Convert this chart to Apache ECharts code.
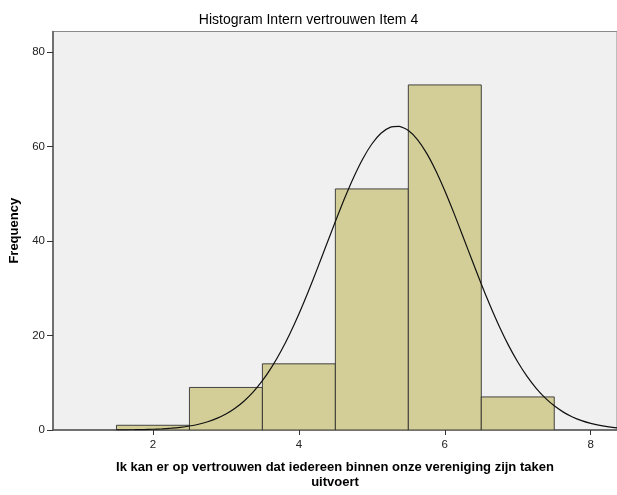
<!DOCTYPE html>
<html>
<head>
<meta charset="utf-8">
<script src="https://cdn.jsdelivr.net/npm/echarts@6/dist/echarts.min.js"></script>
<style>
html,body{margin:0;padding:0;background:#fff;}
#chart{width:617px;height:495px;}
</style>
</head>
<body>
<div id="chart"></div>
<script>
// Histogram bins (centre of each unit-wide bin) and their frequencies
const binCenters = [2, 3, 4, 5, 6, 7];
const frequencies = [1, 9, 14, 51, 73, 7];
// Normal curve points
const curveX = [1.5, 1.625, 1.75, 1.875, 2, 2.125, 2.25, 2.375, 2.5, 2.625, 2.75, 2.875, 3, 3.125, 3.25, 3.375, 3.5, 3.625, 3.75, 3.875, 4, 4.125, 4.25, 4.375, 4.5, 4.625, 4.75, 4.875, 5, 5.125, 5.25, 5.375, 5.5, 5.625, 5.75, 5.875, 6, 6.125, 6.25, 6.375, 6.5, 6.625, 6.75, 6.875, 7, 7.125, 7.25, 7.375, 7.5, 7.625, 7.75, 7.875, 8, 8.125, 8.25, 8.375, 8.5];
const curveY = [0.02, 0.04, 0.06, 0.10, 0.16, 0.25, 0.38, 0.57, 0.84, 1.22, 1.74, 2.45, 3.38, 4.59, 6.14, 8.07, 10.43, 13.24, 16.55, 20.32, 24.54, 29.14, 34.03, 39.07, 44.10, 48.96, 53.43, 57.34, 60.50, 62.77, 64.03, 64.22, 63.34, 61.43, 58.57, 54.91, 50.62, 45.88, 40.89, 35.84, 30.87, 26.16, 21.79, 17.85, 14.38, 11.38, 8.87, 6.79, 5.11, 3.78, 2.75, 1.97, 1.39, 0.96, 0.65, 0.44, 0.29];
const xTicks = [2, 4, 6, 8];
const yTicks = [0, 20, 40, 60, 80];

const title = 'Histogram Intern vertrouwen Item 4';
const xName = 'Ik kan er op vertrouwen dat iedereen binnen onze vereniging zijn taken\nuitvoert';
const yName = 'Frequency';

const font = '"Liberation Sans", Arial, sans-serif';
const chart = echarts.init(document.getElementById('chart'), null, {renderer: 'canvas'});

const histData = binCenters.map((c, i) => [c, frequencies[i]]);
const curveData = curveX.map((x, i) => [x, curveY[i]]);

chart.setOption({
  animation: false,
  backgroundColor: '#ffffff',
  title: {
    text: title,
    left: 'center',
    top: 8,
    textStyle: {fontFamily: font, fontSize: 14, fontWeight: 'normal', color: '#000'}
  },
  grid: {
    left: 53, right: 0, top: 31.5, bottom: 60.7,
    show: true,
    backgroundColor: '#f0f0f0',
    borderColor: '#8a8a8a',
    borderWidth: 1
  },
  xAxis: {
    type: 'value',
    min: 0.63,
    max: 8.36,
    name: xName,
    nameLocation: 'middle',
    nameGap: 30,
    nameTextStyle: {fontFamily: font, fontSize: 13, fontWeight: 'bold', color: '#000', lineHeight: 15, verticalAlign: 'top'},
    axisLine: {show: true, onZero: false, lineStyle: {color: '#555', width: 1.5}},
    axisTick: {show: true, length: 5, customValues: xTicks, lineStyle: {color: '#333'}},
    axisLabel: {customValues: xTicks, margin: 9, fontFamily: font, fontSize: 11.5, color: '#222'},
    splitLine: {show: false}
  },
  yAxis: {
    type: 'value',
    min: 0,
    max: 84.3,
    name: yName,
    nameLocation: 'middle',
    nameRotate: 90,
    nameGap: 28,
    nameTextStyle: {fontFamily: font, fontSize: 13, fontWeight: 'bold', color: '#000'},
    axisLine: {show: true, lineStyle: {color: '#555', width: 1.5}},
    axisTick: {show: true, length: 6, customValues: yTicks, lineStyle: {color: '#333'}},
    axisLabel: {customValues: yTicks, margin: 8, fontFamily: font, fontSize: 11.5, color: '#222'},
    splitLine: {show: false}
  },
  series: [
    {
      type: 'custom',
      data: histData,
      clip: true,
      renderItem: function (params, api) {
        const c = api.value(0), v = api.value(1);
        const p0 = api.coord([c - 0.5, v]);
        const p1 = api.coord([c + 0.5, 0]);
        return {
          type: 'rect',
          shape: {x: p0[0], y: p0[1], width: p1[0] - p0[0], height: p1[1] - p0[1]},
          style: {fill: '#d3ce98', stroke: 'rgba(40,40,40,0.85)', lineWidth: 1}
        };
      },
      z: 2
    },
    {
      type: 'line',
      data: curveData,
      smooth: 0.2,
      symbol: 'none',
      clip: true,
      lineStyle: {color: '#111', width: 1.2},
      z: 3
    }
  ]
});
</script>
</body>
</html>
